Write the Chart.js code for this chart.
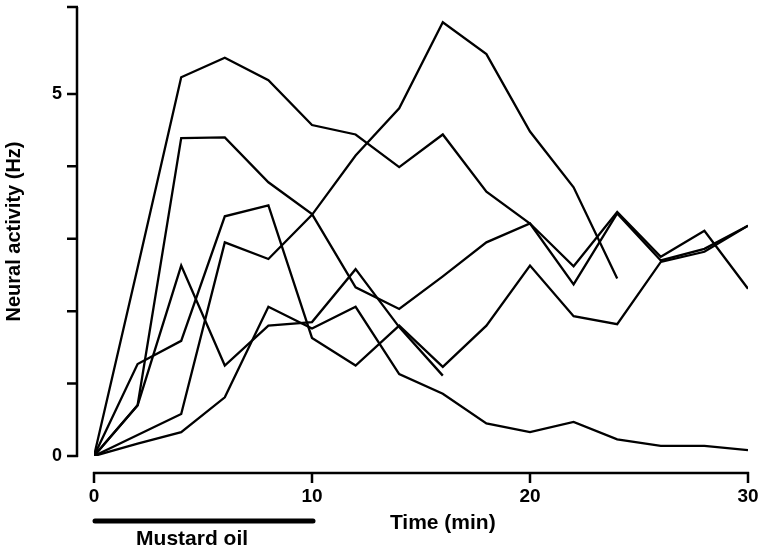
<!DOCTYPE html>
<html>
<head>
<meta charset="utf-8">
<title>Neural activity after mustard oil</title>
<script src="https://cdn.jsdelivr.net/npm/chart.js@4/dist/chart.umd.min.js"></script>
<style>
  html, body { margin: 0; padding: 0; background: #fff; }
  #wrap { width: 762px; height: 549px; }
</style>
</head>
<body>
<div id="wrap"><canvas id="activityChart" width="762" height="549"></canvas></div>
<script>
// Time points (min) and the six recorded units (Hz)
const times = [0, 2, 4, 6, 8, 10, 12, 14, 16, 18, 20, 22, 24, 26, 28, 30];
const unitA = [0, 2.6, 5.23, 5.5, 5.19, 4.57, 4.44, 3.99, 4.44, 3.65, 3.21, 2.62, 3.37, 2.75, 3.11, 2.31];
const unitB = [0, 0.29, 0.58, 2.95, 2.72, 3.33, 4.15, 4.8, 5.99, 5.55, 4.48, 3.71, 2.45];
const unitC = [0, 0.7, 4.39, 4.4, 3.78, 3.34, 2.33, 2.03, 2.48, 2.95, 3.21, 2.37, 3.35, 2.7, 2.86, 3.18];
const unitD = [0, 1.27, 1.59, 3.31, 3.46, 1.63, 1.25, 1.8, 1.23, 1.8, 2.63, 1.93, 1.82, 2.68, 2.82, 3.18];
const unitE = [0, 0.7, 2.63, 1.25, 1.8, 1.85, 2.58, 1.78, 1.11];
const unitF = [0, 0.17, 0.33, 0.81, 2.06, 1.76, 2.06, 1.13, 0.86, 0.45, 0.33, 0.47, 0.23, 0.14, 0.14, 0.08];

const yTickLabels = [0, 5];
const xTickLabels = [0, 10, 20, 30];
const yMax = 6.2;
const stimulus = { label: "Mustard oil", from: 0, to: 10 };
const xTitle = "Time (min)";
const yTitle = "Neural activity (Hz)";

const FONT = "'Liberation Sans', Arial, Helvetica, sans-serif";

function toPoints(values) {
  return values.map((v, i) => ({ x: times[i], y: v }));
}

// keep the plot area exactly where the figure has it
function noPadding(scale) {
  scale.paddingTop = 0;
  scale.paddingBottom = 0;
  scale.paddingLeft = 0;
  scale.paddingRight = 0;
}

// Axes in the figure sit apart from the data origin, so draw them here
const detachedAxes = {
  id: "detachedAxes",
  afterDraw(chart) {
    const { ctx } = chart;
    const x = chart.scales.x;
    const y = chart.scales.y;
    const x0 = x.getPixelForValue(0);
    const y0 = y.getPixelForValue(0);
    const axisX = x0 - 17;
    const axisY = y0 + 17;
    const tick = 10;

    ctx.save();
    ctx.strokeStyle = "#000";
    ctx.lineWidth = 2.5;
    ctx.lineCap = "butt";

    // y axis with ticks every 1 Hz and a cap at the top
    ctx.beginPath();
    ctx.moveTo(axisX, y0 + 1);
    ctx.lineTo(axisX, y.getPixelForValue(yMax));
    for (let v = 0; v <= 5; v++) {
      const py = y.getPixelForValue(v);
      ctx.moveTo(axisX - tick, py);
      ctx.lineTo(axisX + 1, py);
    }
    const top = y.getPixelForValue(yMax);
    ctx.moveTo(axisX - tick, top);
    ctx.lineTo(axisX + 1, top);
    ctx.stroke();

    // x axis
    ctx.beginPath();
    ctx.moveTo(x0 - 1, axisY);
    ctx.lineTo(x.getPixelForValue(times[times.length - 1]) + 1, axisY);
    xTickLabels.forEach((t) => {
      const px = x.getPixelForValue(t);
      ctx.moveTo(px, axisY - 1);
      ctx.lineTo(px, axisY + tick);
    });
    ctx.stroke();

    // stimulus bar
    ctx.lineWidth = 5;
    ctx.lineCap = "round";
    ctx.beginPath();
    ctx.moveTo(x.getPixelForValue(stimulus.from) + 1, axisY + 48);
    ctx.lineTo(x.getPixelForValue(stimulus.to) + 1, axisY + 48);
    ctx.stroke();

    ctx.fillStyle = "#000";
    ctx.font = "bold 21px " + FONT;
    ctx.textAlign = "center";
    ctx.textBaseline = "alphabetic";
    ctx.fillText(stimulus.label, x.getPixelForValue(4.5), axisY + 72);
    ctx.fillText(xTitle, x.getPixelForValue(16), axisY + 56);
    ctx.restore();
  },
};

const series = [unitA, unitB, unitC, unitD, unitE, unitF];

new Chart(document.getElementById("activityChart"), {
  type: "line",
  data: {
    datasets: series.map((values, i) => ({
      label: "Unit " + (i + 1),
      data: toPoints(values),
      borderColor: "#000",
      borderWidth: 2.3,
      borderJoinStyle: "miter",
      pointRadius: 0,
      tension: 0,
      fill: false,
    })),
  },
  options: {
    responsive: false,
    animation: false,
    layout: {
      padding: { top: 7, right: 14, bottom: 0, left: 0 },
    },
    plugins: {
      legend: { display: false },
      tooltip: { enabled: false },
    },
    scales: {
      x: {
        type: "linear",
        min: 0,
        max: 30,
        grid: { display: false, drawTicks: false },
        border: { display: false },
        ticks: {
          stepSize: 10,
          padding: 29,
          color: "#000",
          font: { family: FONT, size: 19, weight: "bold" },
          callback: (v) => (xTickLabels.includes(v) ? String(v) : null),
        },
        afterFit: (scale) => {
          scale.height = 93;
          noPadding(scale);
        },
      },
      y: {
        min: 0,
        max: yMax,
        grid: { display: false, drawTicks: false },
        border: { display: false },
        ticks: {
          stepSize: 1,
          padding: 32,
          color: "#000",
          font: { family: FONT, size: 18, weight: "bold" },
          callback: (v) => (yTickLabels.includes(v) ? String(v) : null),
        },
        title: {
          display: true,
          text: yTitle,
          color: "#000",
          padding: { top: 2, bottom: 0 },
          font: { family: FONT, size: 20, weight: "bold" },
        },
        afterFit: (scale) => {
          scale.width = 94;
          noPadding(scale);
        },
      },
    },
  },
  plugins: [detachedAxes],
});
</script>
</body>
</html>
